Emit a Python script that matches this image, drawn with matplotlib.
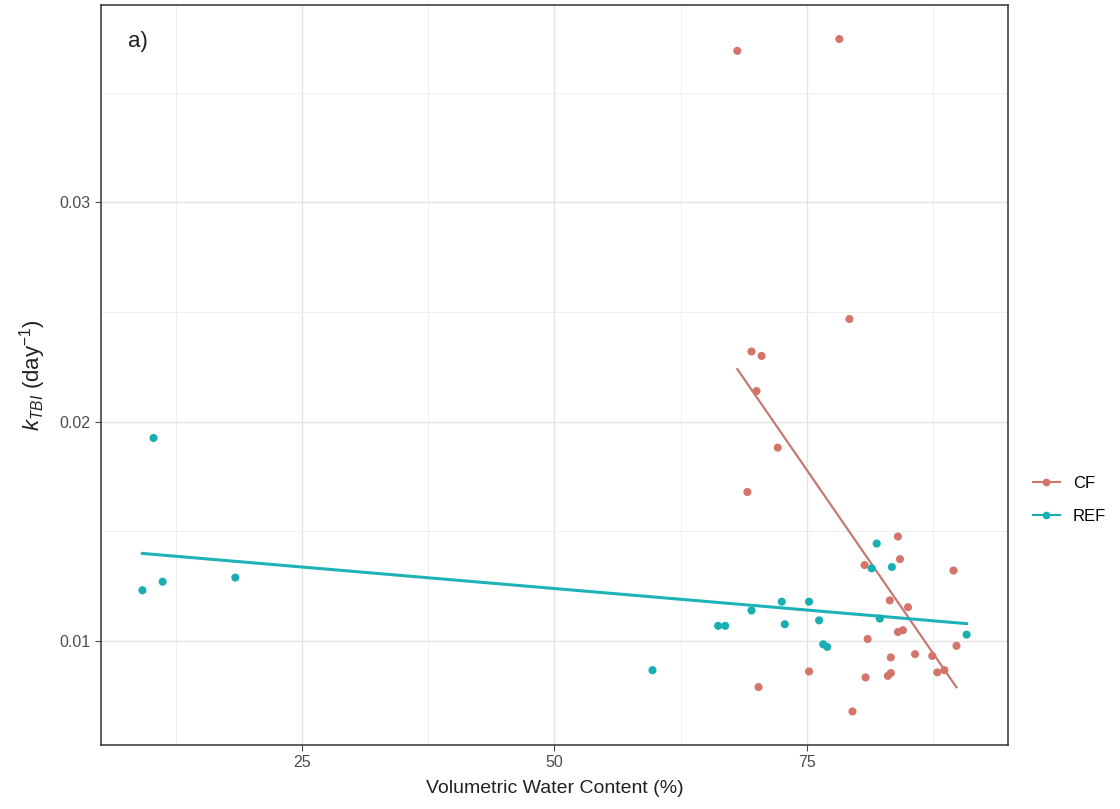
import matplotlib
matplotlib.use('Agg')
import matplotlib.pyplot as plt
from matplotlib.lines import Line2D

plt.rcParams['font.family'] = ['Liberation Sans', 'DejaVu Sans']
plt.rcParams['mathtext.fontset'] = 'custom'
plt.rcParams['mathtext.rm'] = 'Liberation Sans'
plt.rcParams['mathtext.it'] = 'Liberation Sans:italic'

# CF points (volumetric water content %, k_TBI)
cf_x = [68.1, 78.2, 69.5, 70.5, 70.0, 79.2, 72.1, 69.1, 84.0, 84.2, 80.7, 89.5,
        83.2, 85.0, 84.0, 84.5, 81.0, 89.8, 85.7, 83.3, 87.4, 87.9, 88.6, 75.2,
        83.0, 83.3, 80.8, 70.2, 79.5]
cf_y = [0.0369, 0.03744, 0.0232, 0.0230, 0.0214, 0.02468, 0.01882, 0.0168, 0.01477,
        0.01374, 0.01347, 0.01322, 0.01186, 0.01155, 0.01042, 0.0105, 0.0101, 0.00979,
        0.00941, 0.00926, 0.00933, 0.00858, 0.00868, 0.00862, 0.00842, 0.00855,
        0.00835, 0.00791, 0.0068]

# REF points
ref_x = [10.3, 9.2, 11.2, 18.4, 59.7, 66.2, 66.9, 69.5, 72.5, 72.8, 75.2, 76.2,
         76.6, 77.0, 81.9, 81.4, 83.4, 82.2, 90.8]
ref_y = [0.01926, 0.01232, 0.01271, 0.0129, 0.00868, 0.0107, 0.0107, 0.0114, 0.0118,
         0.01077, 0.0118, 0.01095, 0.00986, 0.00974, 0.01445, 0.01332, 0.01338,
         0.01103, 0.0103]

# linear fit lines (endpoints)
cf_fit_x = [68.1, 89.8]
cf_fit_y = [0.0224, 0.0079]
ref_fit_x = [9.2, 90.8]
ref_fit_y = [0.0140, 0.0108]

xticks = [25, 50, 75]
yticks = [0.01, 0.02, 0.03]

cf_col = '#D4756C'
ref_col = '#18AEB2'

fig = plt.figure(figsize=(11.2, 8.09), dpi=100)
ax = fig.add_axes([101 / 1120, 1 - 745 / 809, (1008 - 101) / 1120, (745 - 5) / 809])

# grid: major and minor
for v in [12.5, 37.5, 62.5, 87.5]:
    ax.axvline(v, color='#EEEEEE', lw=0.7, zorder=0)
for v in xticks:
    ax.axvline(v, color='#E3E3E3', lw=1.0, zorder=0)
for v in [0.005, 0.015, 0.025, 0.035]:
    ax.axhline(v, color='#EEEEEE', lw=0.7, zorder=0)
for v in yticks:
    ax.axhline(v, color='#E3E3E3', lw=1.0, zorder=0)

ax.scatter(cf_x, cf_y, s=34, color=cf_col, edgecolors='none', zorder=3)
ax.scatter(ref_x, ref_y, s=34, color=ref_col, edgecolors='none', zorder=3)
ax.plot(cf_fit_x, cf_fit_y, color='#C47A70', lw=1.6, zorder=2)
ax.plot(ref_fit_x, ref_fit_y, color='#1DB3B6', lw=2.2, zorder=2)

ax.set_xlim(5.1, 94.9)
ax.set_ylim(0.00527, 0.03899)
ax.set_xticks(xticks)
ax.set_xticklabels([str(t) for t in xticks])
ax.set_yticks(yticks)
ax.set_yticklabels(['0.01', '0.02', '0.03'])
ax.tick_params(colors='#4D4D4D', labelsize=11.5, length=4, width=0.8)
for s in ax.spines.values():
    s.set_color('#333333')
    s.set_linewidth(1.1)

ax.set_xlabel('Volumetric Water Content (%)', fontsize=14, color='#222222', labelpad=7)
ax.set_ylabel(r'$k_{TBI}$ (day$^{\mathregular{-1}}$)', fontsize=16, color='#222222', labelpad=8)

ax.text(0.03, 0.965, 'a)', transform=ax.transAxes, fontsize=16, va='top', ha='left', color='#222222')

handles = [Line2D([0], [0], color=cf_col, marker='o', markersize=4.5, lw=1.5),
           Line2D([0], [0], color=ref_col, marker='o', markersize=4.5, lw=1.5)]
fig.legend(handles, ['CF', 'REF'], loc='center left', bbox_to_anchor=(1018 / 1120, 1 - 500 / 809),
           frameon=False, fontsize=12, handlelength=1.6, labelspacing=1.1)

fig.savefig('out.png', dpi=100)
